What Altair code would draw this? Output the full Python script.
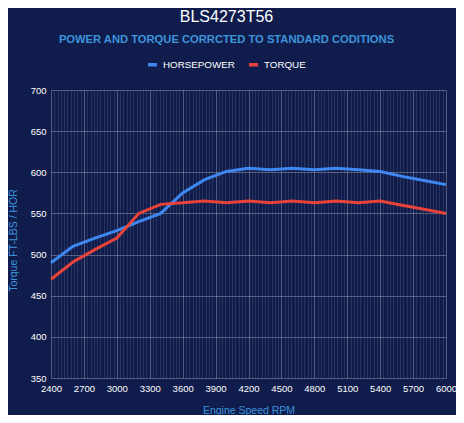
import altair as alt
import pandas as pd

rpm = [2400, 2600, 2800, 3000, 3200, 3400, 3600, 3800, 4000, 4200,
       4400, 4600, 4800, 5000, 5200, 5400, 5600, 5800, 6000]
horsepower = [490, 510, 520, 529, 540, 550, 575, 591, 601, 605,
              603, 605, 603, 605, 603, 601, 595, 590, 585]
torque = [470, 491, 506, 520, 550, 561, 563, 565, 563, 565,
          563, 565, 563, 565, 563, 565, 560, 555, 550]
series = ["HORSEPOWER", "TORQUE"]
colors = ["#3f87f0", "#e8433a"]
x_ticks = list(range(2400, 6001, 30))
y_ticks = list(range(350, 701, 50))

df = pd.DataFrame({
    "rpm": rpm * 2,
    "value": horsepower + torque,
    "series": [series[0]] * len(rpm) + [series[1]] * len(rpm),
})

FONT = "Liberation Sans"
BG = "#101c4b"

chart = alt.Chart(df).mark_line(strokeWidth=3).encode(
    x=alt.X("rpm:Q",
            scale=alt.Scale(domain=[2400, 6000], nice=False, zero=False),
            axis=alt.Axis(values=x_ticks, format="d", labelFlush=False,
                          labelOverlap=False,
                          labelExpr="datum.value % 300 === 0 ? datum.label : ''",
                          gridOpacity=alt.ExprRef("datum.value % 300 === 0 ? 0.28 : 0.1"),
                          title="Engine Speed RPM")),
    y=alt.Y("value:Q",
            scale=alt.Scale(domain=[350, 700], nice=False, zero=False),
            axis=alt.Axis(values=y_ticks, title="Torque FT-LBS / HOR", gridOpacity=0.28,
                          titleY=150)),
    color=alt.Color("series:N",
                    scale=alt.Scale(domain=series, range=colors),
                    legend=alt.Legend(title=None, orient="none", direction="horizontal",
                                      legendX=95, legendY=-32,
                                      symbolType="stroke", symbolStrokeWidth=3.5,
                                      symbolSize=80, columnPadding=7,
                                      labelColor="white", labelFontSize=9.8,
                                      labelFont=FONT, labelFontWeight="normal")),
).properties(
    width=395,
    height=288,
    autosize=alt.AutoSizeParams(type="none"),
    padding={"left": 43, "top": 82, "right": 10, "bottom": 37},
    background=BG,
    title=alt.TitleParams(
        text="BLS4273T56",
        subtitle="POWER AND TORQUE CORRCTED TO STANDARD CODITIONS",
        anchor="middle", dx=-22, offset=13,
        font=FONT, fontSize=16, fontWeight="normal", color="white",
        subtitleFont=FONT, subtitleFontSize=11.2, subtitleFontWeight="bold",
        subtitleColor="#3d95dc", subtitlePadding=9,
    ),
).configure_view(
    stroke=None, fill=BG,
).configure_axis(
    labelColor="white", labelFont=FONT, labelFontSize=9.5,
    titleColor="#3d95dc", titleFont=FONT, titleFontSize=10.5, titleFontWeight="normal",
    gridColor="#ffffff", domain=False, ticks=False, labelPadding=5,
).configure_axisY(
    titlePadding=12,
).configure_axisX(
    titlePadding=13,
)

chart.save("out.html", embed_options={"renderer": "svg", "actions": False})
